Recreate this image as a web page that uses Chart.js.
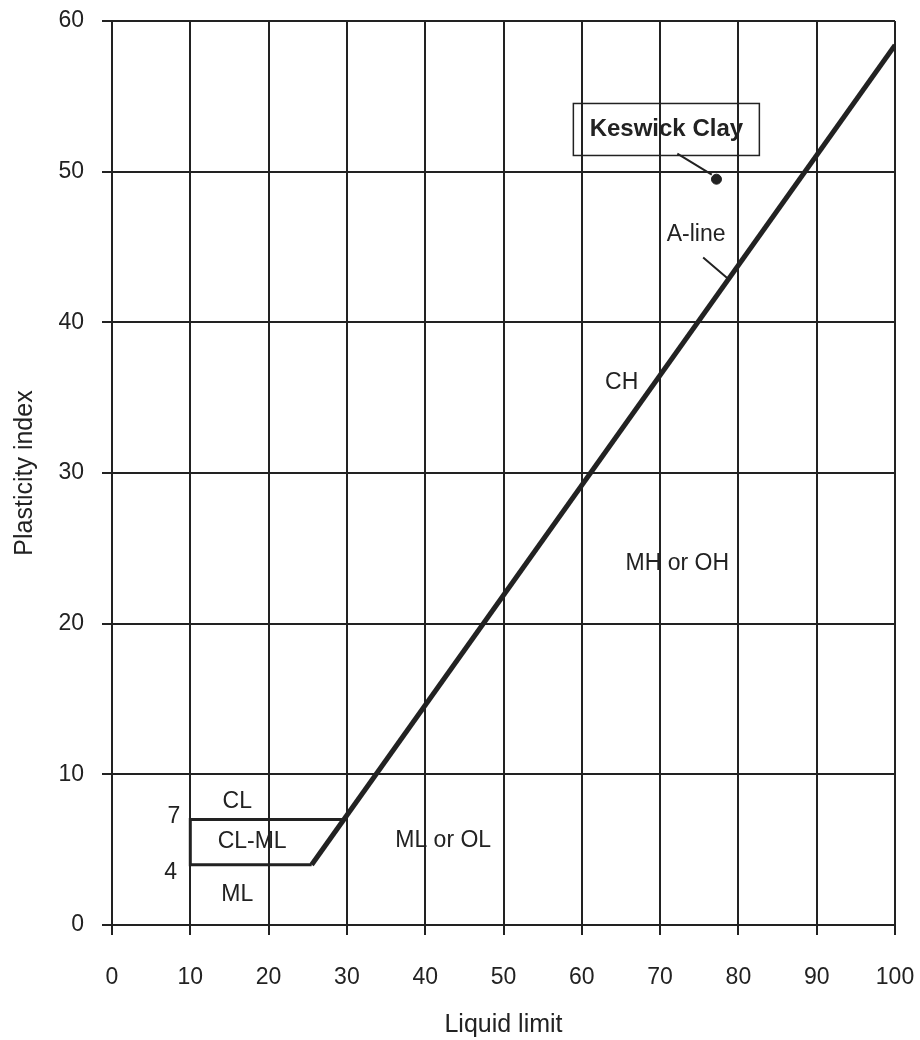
<!DOCTYPE html>
<html>
<head>
<meta charset="utf-8">
<script src="https://cdn.jsdelivr.net/npm/chart.js@4.4.1/dist/chart.umd.min.js"></script>
<style>
  html, body { margin: 0; padding: 0; background: #fff; }
  #wrap { width: 920px; height: 1040px; }
</style>
</head>
<body>
<div id="wrap"><canvas id="plasticity" width="920" height="1040"></canvas></div>
<script>
// 소성도 (plasticity chart) 데이터

// A-line : PI = 0.73 (LL - 20)
var aLineLL = [25.5, 100];
var aLinePI = [4, 58.4];

// CL-ML zone boundary (7 / 4)
var zoneLL = [29.6, 10, 10, 25.5];
var zonePI = [7, 7, 4, 4];

// measured sample
var sampleLL = [77.2];
var samplePI = [49.5];

// axis ticks
var xTicks = [0, 10, 20, 30, 40, 50, 60, 70, 80, 90, 100];
var yTicks = [0, 10, 20, 30, 40, 50, 60];

// zone labels (text, LL, PI)
var zoneText = ['CL', 'CL-ML', 'ML', '7', '4', 'ML or OL', 'CH', 'MH or OH', 'A-line'];
var zoneTextLL = [16.0, 17.9, 16.0, 7.9, 7.5, 42.3, 65.1, 72.2, 74.6];
var zoneTextPI = [8.2, 5.5, 2.0, 7.2, 3.5, 5.6, 36.0, 24.0, 45.8];

var INK = '#222';
var FONT = '"Liberation Sans", Arial, sans-serif';

function toPoints(xs, ys) {
    var pts = [];
    for (var i = 0; i < xs.length; i++) {
        pts.push({ x: xs[i], y: ys[i] });
    }
    return pts;
}

// 라벨, 지시선, 박스 그리기
var labelPlugin = {
    id: 'zoneLabels',
    afterDatasetsDraw: function (chart) {
        var ctx = chart.ctx;
        var xs = chart.scales.x;
        var ys = chart.scales.y;
        ctx.save();
        ctx.fillStyle = INK;
        ctx.textAlign = 'center';
        ctx.textBaseline = 'middle';
        ctx.font = '23px ' + FONT;
        for (var i = 0; i < zoneText.length; i++) {
            ctx.fillText(zoneText[i], xs.getPixelForValue(zoneTextLL[i]), ys.getPixelForValue(zoneTextPI[i]));
        }

        // leader lines
        ctx.strokeStyle = INK;
        ctx.lineWidth = 2;
        ctx.beginPath();
        ctx.moveTo(xs.getPixelForValue(75.5), ys.getPixelForValue(44.3));
        ctx.lineTo(xs.getPixelForValue(78.9), ys.getPixelForValue(42.8));
        ctx.moveTo(xs.getPixelForValue(72.2), ys.getPixelForValue(51.2));
        ctx.lineTo(xs.getPixelForValue(76.6), ys.getPixelForValue(49.8));
        ctx.stroke();

        // Keswick Clay box
        var cx = xs.getPixelForValue(70.8);
        var cy = ys.getPixelForValue(52.8);
        ctx.lineWidth = 1.5;
        ctx.strokeRect(cx - 93, cy - 26, 186, 52);
        ctx.font = 'bold 24px ' + FONT;
        ctx.fillText('Keswick Clay', cx, cy);
        ctx.restore();
    }
};

// 축 라벨 여백 제거 (차트 영역 고정)
function fixPadding(scale) {
    scale.paddingTop = 0;
    scale.paddingBottom = 0;
    scale.paddingLeft = 0;
    scale.paddingRight = 0;
}

var ctx = document.getElementById('plasticity').getContext('2d');

var chart = new Chart(ctx, {
    type: 'scatter',
    data: {
        datasets: [
            {
                label: 'A-line',
                data: toPoints(aLineLL, aLinePI),
                showLine: true,
                borderColor: INK,
                borderWidth: 5,
                pointRadius: 0,
                fill: false
            },
            {
                label: 'CL-ML',
                data: toPoints(zoneLL, zonePI),
                showLine: true,
                borderColor: INK,
                borderWidth: 3,
                pointRadius: 0,
                fill: false
            },
            {
                label: 'Keswick Clay',
                data: toPoints(sampleLL, samplePI),
                showLine: false,
                pointRadius: 5,
                pointBackgroundColor: INK,
                pointBorderColor: INK
            }
        ]
    },
    options: {
        responsive: false,
        animation: false,
        layout: { padding: { top: 21, right: 25, bottom: 0, left: 0 } },
        plugins: {
            legend: { display: false },
            tooltip: { enabled: false }
        },
        scales: {
            x: {
                type: 'linear',
                min: 0,
                max: 100,
                afterFit: function (scale) { scale.height = 115; fixPadding(scale); },
                afterBuildTicks: function (scale) {
                    scale.ticks = xTicks.map(function (v) { return { value: v }; });
                },
                grid: { color: INK, lineWidth: 2, tickLength: 10, drawTicks: true },
                border: { display: true, color: INK, width: 2 },
                ticks: {
                    color: INK,
                    padding: 29,
                    maxRotation: 0,
                    font: { family: FONT, size: 23 }
                },
                title: {
                    display: true,
                    text: 'Liquid limit',
                    color: INK,
                    padding: { top: 0, bottom: 0 },
                    font: { family: FONT, size: 25 }
                }
            },
            y: {
                type: 'linear',
                min: 0,
                max: 60,
                afterFit: function (scale) { scale.width = 112; fixPadding(scale); },
                afterBuildTicks: function (scale) {
                    scale.ticks = yTicks.map(function (v) { return { value: v }; });
                },
                grid: { color: INK, lineWidth: 2, tickLength: 10, drawTicks: true },
                border: { display: true, color: INK, width: 2 },
                ticks: {
                    color: INK,
                    padding: 18,
                    font: { family: FONT, size: 23 }
                },
                title: {
                    display: true,
                    text: 'Plasticity index',
                    color: INK,
                    padding: { top: 10, bottom: 0 },
                    font: { family: FONT, size: 25 }
                }
            }
        }
    },
    plugins: [labelPlugin]
});
</script>
</body>
</html>
